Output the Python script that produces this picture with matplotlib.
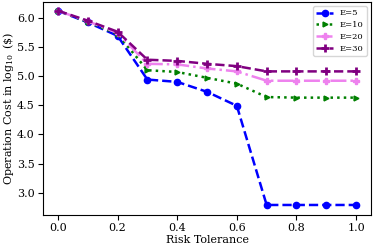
import matplotlib
matplotlib.use("Agg")
import matplotlib.pyplot as plt

plt.rcParams['font.family'] = ['DejaVu Serif']
plt.rcParams['mathtext.fontset'] = 'dejavuserif'

risk = [0.0, 0.1, 0.2, 0.3, 0.4, 0.5, 0.6, 0.7, 0.8, 0.9, 1.0]
e5 = [6.12, 5.92, 5.69, 4.94, 4.90, 4.73, 4.49, 2.79, 2.79, 2.79, 2.79]
e10 = [6.12, 5.93, 5.72, 5.10, 5.07, 4.97, 4.87, 4.64, 4.63, 4.63, 4.63]
e20 = [6.12, 5.94, 5.74, 5.21, 5.20, 5.13, 5.08, 4.92, 4.92, 4.92, 4.92]
e30 = [6.12, 5.95, 5.76, 5.28, 5.26, 5.21, 5.17, 5.08, 5.08, 5.08, 5.08]
labels = ['E=5', 'E=10', 'E=20', 'E=30']

fig, ax = plt.subplots(figsize=(3.74, 2.47), dpi=100)
ax.plot(risk, e5, color='blue', linestyle='--', marker='o', markersize=4.5, linewidth=1.8, label=labels[0])
ax.plot(risk, e10, color='green', linestyle=':', marker='>', markersize=3.5, linewidth=1.8, label=labels[1])
ax.plot(risk, e20, color='violet', linestyle='-.', marker='P', markersize=4.5, linewidth=1.8, label=labels[2])
ax.plot(risk, e30, color='purple', linestyle='--', marker='+', markersize=5.5, markeredgewidth=2, linewidth=1.8, label=labels[3])

ax.set_xlabel('Risk Tolerance', fontsize=8, labelpad=1)
ax.set_ylabel(r'Operation Cost in $\log_{10}$ (\$)', fontsize=8, labelpad=0.5)
ax.set_xticks([0.0, 0.2, 0.4, 0.6, 0.8, 1.0])
ax.set_yticks([3.0, 3.5, 4.0, 4.5, 5.0, 5.5, 6.0])
ax.tick_params(labelsize=8, pad=2.5)
ax.set_ylim(2.62, 6.27)
ax.legend(fontsize=6, loc='upper right', labelspacing=0.45)
fig.subplots_adjust(left=0.115, right=0.992, top=0.992, bottom=0.13)
fig.savefig('out.png', dpi=100)
